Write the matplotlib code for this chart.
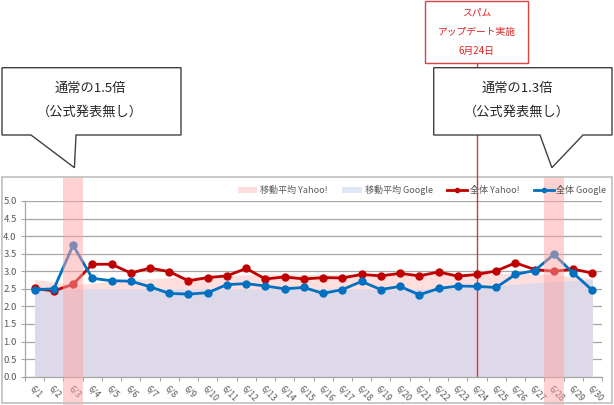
import matplotlib
matplotlib.use('Agg')
import matplotlib.pyplot as plt
import numpy as np
from matplotlib.patches import Rectangle, Polygon, Patch
from matplotlib.lines import Line2D
from matplotlib import transforms

plt.rcParams['font.family'] = ['Noto Sans CJK JP', 'DejaVu Sans']

# データ
days = list(range(1, 31))
labels = [f'6/{d}' for d in days]
yahoo = [2.51, 2.44, 2.63, 3.20, 3.20, 2.95, 3.09, 2.99, 2.73, 2.82,
         2.87, 3.08, 2.78, 2.84, 2.78, 2.82, 2.81, 2.91, 2.87, 2.94,
         2.87, 2.98, 2.86, 2.91, 3.01, 3.24, 3.05, 3.00, 3.06, 2.95]
google = [2.48, 2.50, 3.74, 2.80, 2.73, 2.72, 2.56, 2.37, 2.35, 2.39,
          2.62, 2.65, 2.58, 2.50, 2.54, 2.37, 2.48, 2.71, 2.48, 2.57,
          2.33, 2.51, 2.58, 2.57, 2.54, 2.91, 3.02, 3.48, 2.95, 2.46]
yahoo_ma = [2.77, 2.70, 2.62, 2.66, 2.72, 2.76, 2.79, 2.82, 2.84, 2.85,
            2.87, 2.90, 2.92, 2.92, 2.91, 2.91, 2.91, 2.92, 2.92, 2.92,
            2.92, 2.93, 2.93, 2.93, 2.94, 2.94, 2.93, 2.90, 2.85, 2.79]
google_ma = [2.47, 2.48, 2.50, 2.50, 2.50, 2.50, 2.50, 2.50, 2.50, 2.50,
             2.50, 2.50, 2.50, 2.50, 2.50, 2.50, 2.50, 2.50, 2.50, 2.50,
             2.50, 2.50, 2.52, 2.55, 2.59, 2.63, 2.67, 2.71, 2.74, 2.77]
highlight_days = ['6/3', '6/28']
update_day = '6/24'

W, H = 614, 405
fig = plt.figure(figsize=(W / 100, H / 100), dpi=100)


def fx(px):
    return px / W


def fy(py):
    return 1 - py / H


ax = fig.add_axes([fx(25), fy(376.7), fx(602) - fx(25), fy(201) - fy(376.7)])
x = np.arange(len(labels))

# 移動平均（面）
ax.fill_between(x, 0, yahoo_ma, color='#ffdede', lw=0, zorder=1)
ax.fill_between(x, 0, google_ma, color='#c8d7f0', alpha=0.6, lw=0, zorder=1.1)

# 全体（折れ線）
ax.plot(x, yahoo, color='#c00000', lw=2, marker='o', ms=5, zorder=3)
ax.plot(x, google, color='#0070c0', lw=2, marker='o', ms=5, zorder=3.1)

# 軸
ax.set_xlim(-0.5, len(labels) - 0.5)
ax.set_ylim(0, 5)
ax.set_yticks(np.arange(0, 5.01, 0.5))
ax.set_yticklabels([f'{v:.1f}' for v in np.arange(0, 5.01, 0.5)])
ax.grid(axis='y', color='#a6a6a6', lw=0.9, zorder=0)
ax.set_axisbelow(True)
for s in ['top', 'right']:
    ax.spines[s].set_visible(False)
for s in ['left', 'bottom']:
    ax.spines[s].set_color('#a6a6a6')
    ax.spines[s].set_linewidth(0.9)
ax.set_xticks(np.arange(-0.5, len(labels)))
ax.set_xticklabels([])
ax.set_xticks(x, minor=True)
ax.set_xticklabels(labels, minor=True, rotation=-45, ha='left', va='top',
                   rotation_mode='anchor')
ax.tick_params(axis='x', which='major', length=3, color='#a6a6a6')
ax.tick_params(axis='x', which='minor', length=0, pad=5, labelsize=6.3,
               labelcolor='#595959')
ax.tick_params(axis='y', length=3, color='#a6a6a6', pad=3, labelsize=6.8,
               labelcolor='#595959')

# 強調帯
bt = transforms.blended_transform_factory(ax.transData, fig.transFigure)
for d in highlight_days:
    i = labels.index(d)
    ax.add_patch(Rectangle((i - 0.52, 0), 1.04, fy(176.7), transform=bt,
                           facecolor='#ffa5a5', alpha=0.5, lw=0,
                           clip_on=False, zorder=5))

# アップデート線
iu = labels.index(update_day)
ax.axvline(iu, color='#d03a3a', lw=1, zorder=2.5)
fig.add_artist(Line2D([iu, iu], [fy(201), fy(63.3)], transform=bt,
                      color='#d03a3a', lw=1, zorder=1))

# 凡例
handles = [Patch(facecolor='#ffdede', lw=0),
           Patch(facecolor='#c8d7f0', alpha=0.6, lw=0),
           Line2D([], [], color='#c00000', lw=2, marker='o', ms=3),
           Line2D([], [], color='#0070c0', lw=2, marker='o', ms=3)]
leg = ax.legend(handles, ['移動平均 Yahoo!', '移動平均 Google', '全体 Yahoo!', '全体 Google'],
                ncol=4, frameon=False, fontsize=6.5, loc='center',
                bbox_to_anchor=(fx(422), fy(190)), bbox_transform=fig.transFigure,
                handlelength=2.2, handleheight=0.6, handletextpad=0.3,
                columnspacing=1.6)
for t in leg.get_texts():
    t.set_color('#595959')

# 外枠
fig.add_artist(Rectangle((fx(2), fy(403)), fx(612) - fx(2), fy(176.7) - fy(403),
                         transform=fig.transFigure, fill=False,
                         edgecolor='#bfbfbf', lw=1.2, zorder=0.5))

# 吹き出し
def callout(x0, x1, y0, y1, b0, b1, tip, lines, tx):
    pts = [(x0, y0), (x1, y0), (x1, y1), (b1, y1), tip, (b0, y1), (x0, y1)]
    fig.add_artist(Polygon([(fx(a), fy(b)) for a, b in pts], closed=True,
                           transform=fig.transFigure, facecolor='white',
                           edgecolor='#404040', lw=1, zorder=2))
    for k, s in enumerate(lines):
        fig.text(fx(tx), fy(88 + 24 * k), s, ha='center', va='center',
                 fontsize=9.5, color='#262626', zorder=3)


callout(2, 181, 67.7, 135, 31, 76, (74.4, 167.7),
        ['通常の1.5倍', '（公式発表無し）'], 90)
callout(433.7, 612, 67.7, 135, 540, 583, (551.9, 167.7),
        ['通常の1.3倍', '（公式発表無し）'], 517)

# スパムアップデート
fig.add_artist(Rectangle((fx(424.7), fy(63.3)), fx(528.4) - fx(424.7), fy(0.8) - fy(63.3),
                         transform=fig.transFigure, facecolor='white',
                         edgecolor='#e04040', lw=1, zorder=2))
for k, s in enumerate(['スパム', 'アップデート実施', '6月24日']):
    fig.text(fx(476.5), fy(13 + 19 * k), s, ha='center', va='center',
             fontsize=7, color='#e02020', zorder=3)

fig.savefig('out.png', dpi=100)
